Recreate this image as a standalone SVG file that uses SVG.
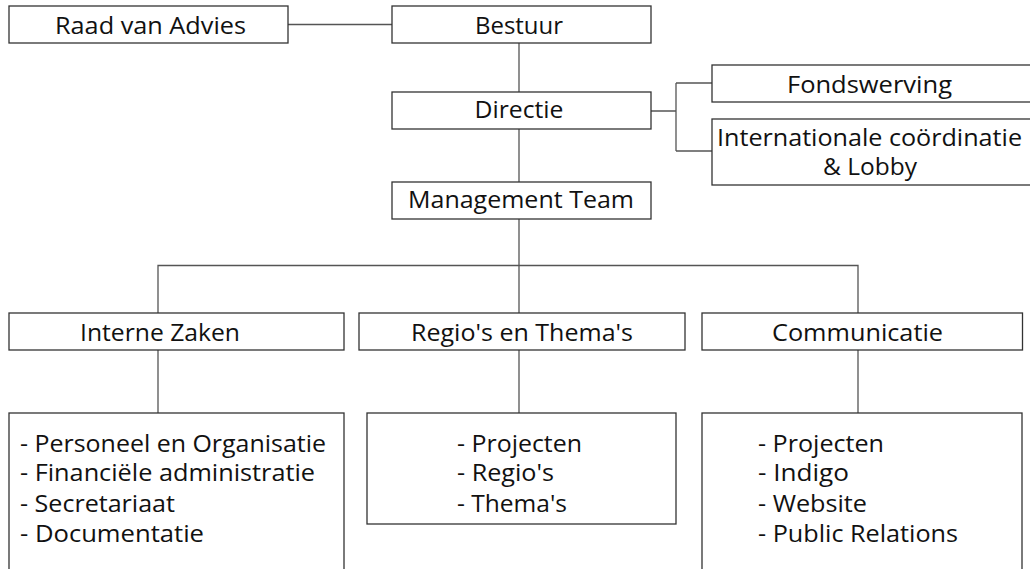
<svg xmlns="http://www.w3.org/2000/svg" width="1030" height="569" viewBox="0 0 1030 569">
<style>
.box{fill:#fff;stroke:#333;stroke-width:1.3}
.ln{fill:none;stroke:#555;stroke-width:1.3}
text{font-family:"Open Sans","Liberation Sans",sans-serif;font-size:23px;fill:#111}
.c{text-anchor:middle}
</style>
<rect x="0" y="0" width="1030" height="569" fill="#fff"/>
<g id="connectors">
<path class="ln" d="M288,24.5H392"/>
<path class="ln" d="M519,43V92M519,129V182M519,219V265.5"/>
<path class="ln" d="M651,111H676M676,83V151M676,83H712M676,151H712"/>
<path class="ln" d="M158,313V265.5H858V313M519,265.5V313"/>
<path class="ln" d="M158,350V413M519,350V413M858,350V413"/>
</g>
<g id="raad"><rect class="box" x="9" y="6" width="279" height="37"/><text class="c" x="150.5" y="34" textLength="191" lengthAdjust="spacingAndGlyphs">Raad van Advies</text></g>
<g id="bestuur"><rect class="box" x="392" y="6" width="259" height="37"/><text class="c" x="519" y="34" textLength="88" lengthAdjust="spacingAndGlyphs">Bestuur</text></g>
<g id="directie"><rect class="box" x="392" y="92" width="259" height="37"/><text class="c" x="519" y="118" textLength="89" lengthAdjust="spacingAndGlyphs">Directie</text></g>
<g id="mt"><rect class="box" x="392" y="182" width="259" height="37"/><text class="c" x="521" y="208" textLength="226" lengthAdjust="spacingAndGlyphs">Management Team</text></g>
<g id="fonds"><rect class="box" x="712" y="65" width="330" height="37"/><text class="c" x="869.5" y="93" textLength="165" lengthAdjust="spacingAndGlyphs">Fondswerving</text></g>
<g id="intl"><rect class="box" x="712" y="119" width="330" height="66"/><text class="c" x="869.5" y="146" textLength="305" lengthAdjust="spacingAndGlyphs">Internationale coördinatie</text><text class="c" x="870" y="175" textLength="94" lengthAdjust="spacingAndGlyphs">&amp; Lobby</text></g>
<g id="interne"><rect class="box" x="9" y="313" width="335" height="37"/><text class="c" x="160" y="341" textLength="160" lengthAdjust="spacingAndGlyphs">Interne Zaken</text></g>
<g id="regio"><rect class="box" x="359" y="313" width="326" height="37"/><text class="c" x="522" y="341" textLength="222" lengthAdjust="spacingAndGlyphs">Regio's en Thema's</text></g>
<g id="comm"><rect class="box" x="702" y="313" width="320.5" height="37"/><text class="c" x="857.5" y="341" textLength="171" lengthAdjust="spacingAndGlyphs">Communicatie</text></g>
<g id="interne-list"><rect class="box" x="9" y="413" width="335" height="170"/>
<text x="20" y="452" textLength="306" lengthAdjust="spacingAndGlyphs">- Personeel en Organisatie</text>
<text x="20" y="481" textLength="295" lengthAdjust="spacingAndGlyphs">- Financiële administratie</text>
<text x="20" y="512" textLength="155" lengthAdjust="spacingAndGlyphs">- Secretariaat</text>
<text x="20" y="542" textLength="184" lengthAdjust="spacingAndGlyphs">- Documentatie</text></g>
<g id="regio-list"><rect class="box" x="367" y="413" width="309" height="111"/>
<text x="457" y="452" textLength="125" lengthAdjust="spacingAndGlyphs">- Projecten</text>
<text x="457" y="481" textLength="97" lengthAdjust="spacingAndGlyphs">- Regio's</text>
<text x="457" y="512" textLength="110" lengthAdjust="spacingAndGlyphs">- Thema's</text></g>
<g id="comm-list"><rect class="box" x="702" y="413" width="320" height="170"/>
<text x="758" y="452" textLength="126" lengthAdjust="spacingAndGlyphs">- Projecten</text>
<text x="758" y="481" textLength="91" lengthAdjust="spacingAndGlyphs">- Indigo</text>
<text x="758" y="512" textLength="109" lengthAdjust="spacingAndGlyphs">- Website</text>
<text x="758" y="542" textLength="200" lengthAdjust="spacingAndGlyphs">- Public Relations</text></g>
</svg>
